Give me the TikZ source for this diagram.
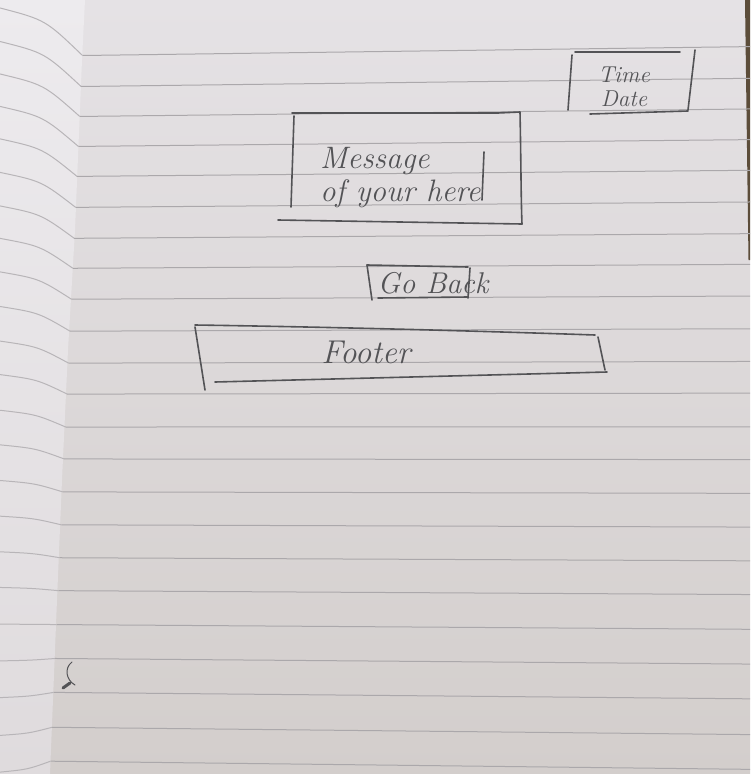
\documentclass[tikz,border=0pt]{standalone}
\usetikzlibrary{calc}
\definecolor{pagecol}{HTML}{E5E2E5}
\definecolor{pagelow}{HTML}{D3CECC}
\definecolor{leftpage}{HTML}{EDEBEE}
\definecolor{leftlow}{HTML}{DFDBDD}
\definecolor{rulegray}{HTML}{ABA8AB}
\definecolor{pencilgray}{HTML}{535356}
\definecolor{tablebrown}{HTML}{5C4D3A}
\begin{document}
\begin{tikzpicture}[x=1pt,y=-1pt,
  pencil/.style={draw=pencilgray,line width=1.6pt,line cap=round,line join=round},
  rule/.style={draw=rulegray,line width=1pt},
  leftrule/.style={draw=rulegray!85!white,line width=1pt},
  scribble/.style={text=pencilgray,font=\itshape,inner sep=0pt}]
\useasboundingbox (0,0) rectangle (750,774);

% right-hand page
\shade[top color=pagecol,bottom color=pagelow] (0,0) rectangle (750,774);
% left-hand page, curling towards the spine
\shade[top color=leftpage,bottom color=leftlow]
  (0,0) -- (85,0) -- (82,60) -- (75,230) -- (68,350) -- (62,480) -- (57,600) -- (50,774) -- (0,774) -- cycle;
% table edge at the right
\fill[tablebrown] (745,0) -- (750,0) -- (750,260) -- (748.5,260) -- cycle;

% ruled lines
\foreach \yl in {55,86,116,146,176,207,238,268,299,331,363,394,427,459,492,525,558,591,625,659,693,728,762} {
  \pgfmathsetmacro\bx{85-\yl/774*35}
  \pgfmathsetmacro\dd{-8+(\yl-55)/707*15}
  \pgfmathsetmacro\ya{\yl+\dd*(\bx-120)/600}
  \pgfmathsetmacro\yb{\yl+\dd*1.05}
  \pgfmathsetmacro\yz{\ya-48+(\ya-50)/700*58}
  \draw[rule] (\bx,\ya) -- (750,\yb);
  \draw[leftrule] (0,\yz) .. controls ({\bx*0.55},{\yz+(\ya-\yz)*0.25}) .. (\bx,\ya);
}

% Time / Date box
\draw[pencil] (572,55) -- (568,110);
\draw[pencil] (575,52) -- (680,52);
\draw[pencil] (695,50) -- (688,110);
\draw[pencil] (590,114) -- (688,111);
\node[scribble,align=center,font=\itshape\fontsize{23}{24}\selectfont] (timedate) at (624,87) {Time\\Date};

% message box
\draw[pencil] (292,113) -- (498,113) -- (520,112) .. controls (521,160) and (521,200) .. (522,224);
\draw[pencil] (278,220) -- (522,224);
\draw[pencil] (294,116) -- (291,207);
\draw[pencil] (484,152) -- (482,200);
\node[scribble,align=left,anchor=west,font=\itshape\fontsize{31}{33}\selectfont] (message) at (320,178) {Message\\of your here};

% go back button
\draw[pencil] (367,265) -- (468,267);
\draw[pencil] (367,265) -- (372,300);
\draw[pencil] (470,268) -- (468,298);
\draw[pencil] (378,298) -- (468,297);
\node[scribble,font=\itshape\fontsize{30}{32}\selectfont] (goback) at (433,283) {Go Back};

% footer bar
\draw[pencil] (195,325) .. controls (330,327) and (480,331) .. (595,335);
\draw[pencil] (195,327) -- (205,390);
\draw[pencil] (598,337) -- (605,370);
\draw[pencil] (215,382) -- (607,372);
\node[scribble,font=\itshape\fontsize{33}{34}\selectfont] (footer) at (366,352) {Footer};

% stray pencil mark in the margin
\draw[pencil,line width=1pt] (72,662) .. controls (64,668) and (66,680) .. (75,685);
\draw[pencil,line width=3pt] (63,688) -- (70,683);
\end{tikzpicture}
\end{document}
